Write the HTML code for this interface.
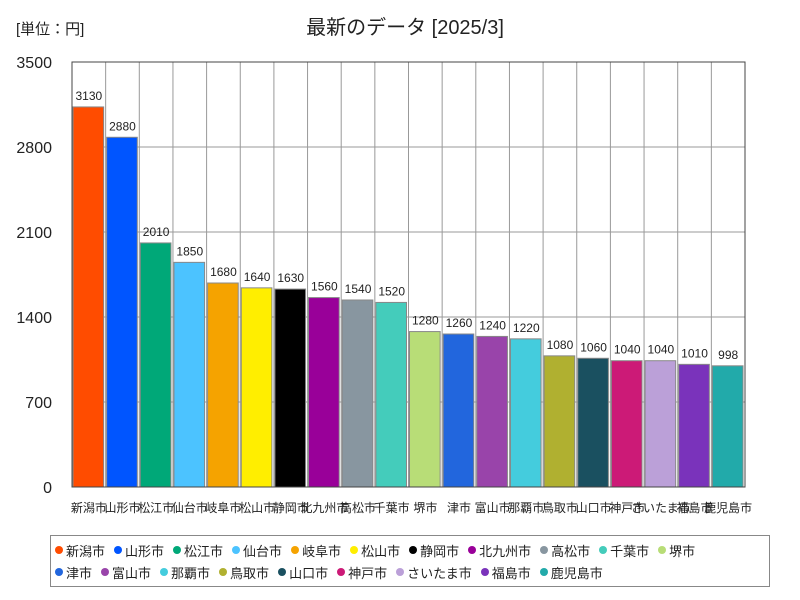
<!DOCTYPE html>
<html><head><meta charset="utf-8">
<style>
body{margin:0;background:#fff;width:800px;height:600px;overflow:hidden;font-family:"Liberation Sans","Noto Sans CJK JP",sans-serif;}
#legend{position:absolute;left:50px;top:535px;width:720px;height:52px;border:1px solid #888;box-sizing:border-box;padding:3px 0 0 4px;font-size:13px;color:#222;}
.row{display:flex;height:22px;align-items:center;}
.item{display:flex;align-items:center;margin-right:9px;white-space:nowrap;}
.dot{width:8px;height:8px;border-radius:50%;margin-right:3px;}
</style></head><body>
<svg id="chart" width="800" height="600" style="position:absolute;left:0;top:0">
<text x="16" y="34" font-size="15" fill="#222" font-family="Liberation Sans, Noto Sans CJK JP, sans-serif">[単位：円]</text>
<text x="405" y="34" font-size="20" text-anchor="middle" fill="#222" font-family="Liberation Sans, Noto Sans CJK JP, sans-serif">最新のデータ [2025/3]</text>
<g id="grid"></g><g id="bars"></g><g id="labels"></g>
<rect x="72" y="62" width="673" height="425" fill="none" stroke="#444" stroke-width="1"/>
</svg>
<div id="legend"></div>
<script>
const categories=["新潟市","山形市","松江市","仙台市","岐阜市","松山市","静岡市","北九州市","高松市","千葉市","堺市","津市","富山市","那覇市","鳥取市","山口市","神戸市","さいたま市","福島市","鹿児島市"];
const values=[3130,2880,2010,1850,1680,1640,1630,1560,1540,1520,1280,1260,1240,1220,1080,1060,1040,1040,1010,998];
const yTicks=[0,700,1400,2100,2800,3500];
const colors=["#ff4c00","#0055ff","#00a878","#4cc3ff","#f5a300","#ffee00","#000000","#990099","#8896a0","#44ccbb","#b8dd77","#2266dd","#9944aa","#44ccdd","#b0b030","#1a5060","#cc1a77","#bba0d8","#7a33bb","#22aaaa"];
const NS="http://www.w3.org/2000/svg";
const X0=72,X1=745,Y0=487,Y1=62,YMAX=3500;
const y=v=>Y0-(v/YMAX)*(Y0-Y1);
const slot=(X1-X0)/categories.length;
const x=i=>X0+i*slot;
function mk(tag,attrs,parent){const e=document.createElementNS(NS,tag);for(const k in attrs)e.setAttribute(k,attrs[k]);parent.appendChild(e);return e;}
const grid=document.getElementById('grid'),bars=document.getElementById('bars'),labels=document.getElementById('labels');
const F="Liberation Sans, Noto Sans CJK JP, sans-serif";
yTicks.forEach(t=>{
  const l=mk('line',{x1:X0,x2:X1,y1:y(t),y2:y(t),stroke:'#999','stroke-width':1},grid);
  
  
  const tx=mk('text',{x:52,y:y(t)+6,'font-size':16,'text-anchor':'end',fill:'#222','font-family':F},labels);
  tx.textContent=t;
  
  
});
for(let i=1;i<categories.length;i++){
  const l=mk('line',{x1:x(i),x2:x(i),y1:Y1,y2:Y0,stroke:'#999','stroke-width':1},grid);
  
  
}
categories.forEach((c,i)=>{
  const bx=x(i)+1,bw=slot-3;
  const r=mk('rect',{x:bx,y:y(values[i]),width:bw,height:Y0-y(values[i]),fill:colors[i],stroke:'#888','stroke-width':1},bars);
  
  
  const vt=mk('text',{x:x(i)+slot/2,y:y(values[i])-7,'font-size':12,'text-anchor':'middle',fill:'#222','font-family':F},labels);
  vt.textContent=values[i];
  
  
  const ct=mk('text',{x:x(i)+slot/2,y:512,'font-size':12,'text-anchor':'middle',fill:'#222','font-family':F},labels);
  ct.textContent=c;
  
  
});
const lg=document.getElementById('legend');
[[0,11],[11,20]].forEach(([a,b])=>{
  const row=document.createElement('div');row.className='row';
  
  
  for(let i=a;i<b;i++){
    const it=document.createElement('div');it.className='item';
    
    
    const d=document.createElement('span');d.className='dot';d.style.background=colors[i];
    it.appendChild(d);it.appendChild(document.createTextNode(categories[i]));
    row.appendChild(it);
  }
  lg.appendChild(row);
});
</script>
</body></html>
